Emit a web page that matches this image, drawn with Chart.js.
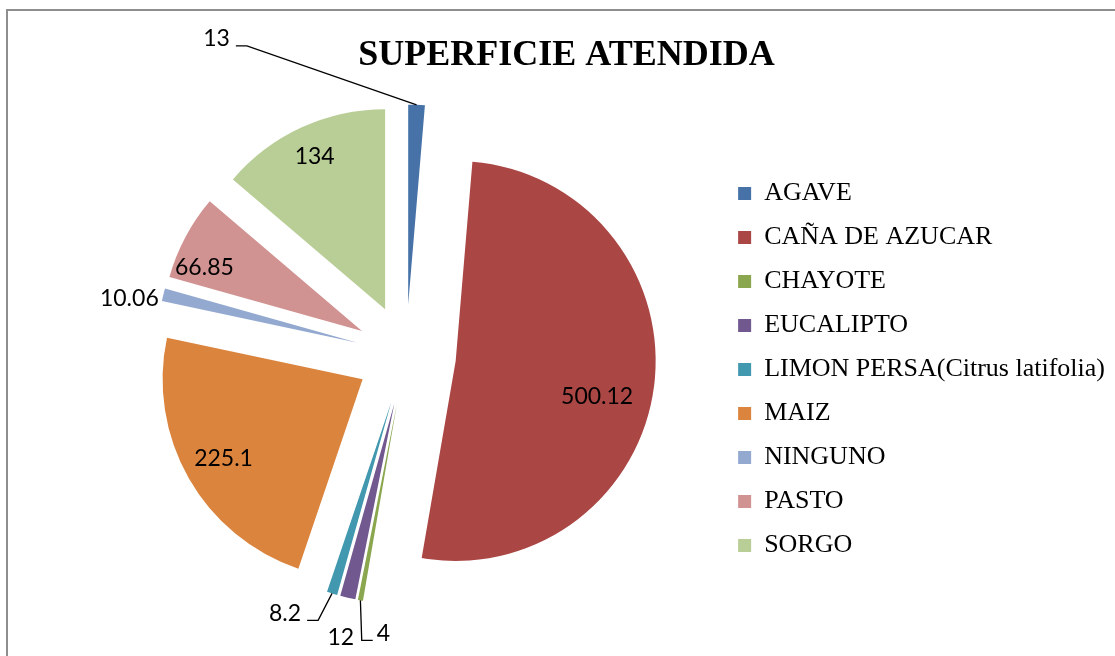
<!DOCTYPE html>
<html>
<head>
<meta charset="utf-8">
<title>Superficie atendida</title>
<script src="https://cdn.jsdelivr.net/npm/chart.js@4.4.0/dist/chart.umd.min.js"></script>
<style>
  body { margin: 0; background: #fff; }
  #wrap { position: relative; width: 1115px; height: 656px; overflow: hidden; }
  #frame { position: absolute; left: 6px; top: 9px; width: 1200px; height: 700px; border: 2px solid #8e8e8e; }
  canvas { position: absolute; left: 0; top: 0; }
</style>
</head>
<body>
<div id="wrap">
  <div id="frame"></div>
  <canvas id="myChart" width="1115" height="656"></canvas>
</div>
<script>
'use strict';

//========== Chart Data ================
let categories = ['AGAVE', 'CAÑA DE AZUCAR', 'CHAYOTE', 'EUCALIPTO', 'LIMON PERSA(Citrus latifolia)', 'MAIZ', 'NINGUNO', 'PASTO', 'SORGO'];
let hectares = [13, 500.12, 4, 12, 8.2, 225.1, 10.06, 66.85, 134];
let sliceColors = ['#4672A8', '#AA4644', '#8AA64F', '#71588F', '#4198AF', '#DB843D', '#93A9CF', '#D19392', '#B9CD96'];
let chartTitle = 'SUPERFICIE ATENDIDA';

//========== Layout Tweaks =============
let explode = 50;
let pieRadius = 200;
let pieNudge = {x: 37, y: -15};

// where each value label sits: big slices inside (radius fraction), small ones outside
let labelSpots = [
  {out: true, dx: -200, dy: -66, leader: 'right'}, // AGAVE
  {r: 0.73, turn: 7},                               // CAÑA
  {out: true, dx: 23, dy: 33, leader: 'left'},      // CHAYOTE
  {out: true, dx: -7, dy: 40},                      // EUCALIPTO
  {out: true, dx: -47, dy: 20, leader: 'right'},    // LIMON
  {r: 0.8},                                         // MAIZ
  {out: true, dx: -34, dy: 4},                      // NINGUNO
  {r: 0.85, turn: -6},                              // PASTO
  {r: 0.84}                                         // SORGO
];

//========== Helper Functions ==========
function sliceOffset(arc) {
  let mid = (arc.startAngle + arc.endAngle) / 2;
  return {
    x: Math.cos(mid) * explode + pieNudge.x,
    y: Math.sin(mid) * explode + pieNudge.y,
    mid: mid
  };
}

// pulls every slice out from the centre, then lets the arc draw itself
let explodePlugin = {
  id: 'explodePlugin',
  beforeDatasetDraw(chart, args) {
    let ctx = chart.ctx;
    args.meta.data.forEach(function (arc) {
      let off = sliceOffset(arc);
      ctx.save();
      ctx.translate(off.x, off.y);
      arc.draw(ctx);
      ctx.restore();
    });
    return false;
  }
};

let valueLabelPlugin = {
  id: 'valueLabelPlugin',
  afterDatasetsDraw(chart) {
    let ctx = chart.ctx;
    let arcs = chart.getDatasetMeta(0).data;
    ctx.save();
    ctx.font = '23px Lato';
    ctx.fillStyle = '#000';
    ctx.strokeStyle = '#000';
    ctx.lineWidth = 1.3;
    ctx.textAlign = 'center';
    ctx.textBaseline = 'middle';

    arcs.forEach(function (arc, i) {
      let off = sliceOffset(arc);
      let cx = arc.x + off.x;
      let cy = arc.y + off.y;
      let spot = labelSpots[i];
      let text = String(hectares[i]);

      if (spot.out) {
        let tipX = cx + Math.cos(off.mid) * arc.outerRadius;
        let tipY = cy + Math.sin(off.mid) * arc.outerRadius;
        let lx = tipX + spot.dx;
        let ly = tipY + spot.dy;
        ctx.fillText(text, lx, ly);
        if (spot.leader) {
          let half = ctx.measureText(text).width / 2;
          let endX = spot.leader === 'right' ? lx + half + 6 : lx - half - 4;
          let kneeX = spot.leader === 'right' ? endX + 11 : endX - 11;
          ctx.beginPath();
          ctx.moveTo(endX, ly + 7);
          ctx.lineTo(kneeX, ly + 7);
          ctx.lineTo(tipX, tipY);
          ctx.stroke();
        }
      } else {
        let ang = off.mid + (spot.turn || 0) * Math.PI / 180;
        let r = arc.outerRadius * spot.r;
        ctx.fillText(text, cx + Math.cos(ang) * r, cy + Math.sin(ang) * r);
      }
    });
    ctx.restore();
  }
};

//========== Chart ======================
let ctx = document.getElementById('myChart').getContext('2d');

let myChartObj = {
  type: 'pie',
  data: {
    labels: categories,
    datasets: [{
      data: hectares,
      backgroundColor: sliceColors,
      borderWidth: 0
    }]
  },
  options: {
    responsive: false,
    animation: false,
    events: [],
    radius: pieRadius,
    layout: {
      padding: {left: 18, top: 12, right: 0, bottom: 0}
    },
    plugins: {
      title: {
        display: true,
        text: chartTitle,
        color: '#000',
        font: {family: 'Liberation Serif', size: 36, weight: 'bold'},
        padding: {top: 22, bottom: 6}
      },
      legend: {
        position: 'right',
        fullSize: false,
        align: 'center',
        labels: {
          color: '#000',
          font: {family: 'Liberation Serif', size: 26},
          boxWidth: 13,
          boxHeight: 13,
          padding: 18
        }
      },
      tooltip: {enabled: false}
    }
  },
  plugins: [explodePlugin, valueLabelPlugin]
};

let myChart = new Chart(ctx, myChartObj);
</script>
</body>
</html>
